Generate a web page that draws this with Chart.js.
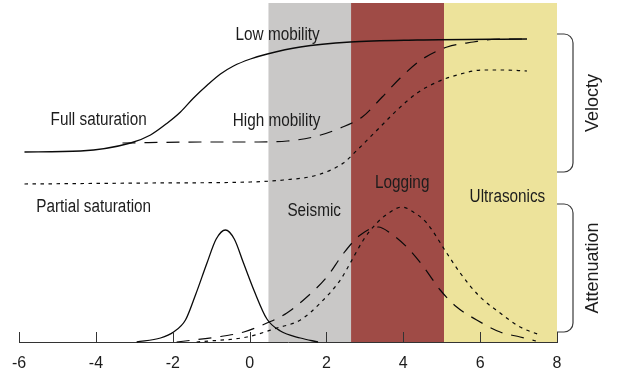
<!DOCTYPE html>
<html><head><meta charset="utf-8">
<script src="https://cdn.jsdelivr.net/npm/chart.js@4"></script>
<style>html,body{margin:0;padding:0;background:#fff}#wrap{width:617px;height:379px;position:relative}</style>
</head><body><div id="wrap"><canvas id="c"></canvas></div>
<script>
// ---- data ----
const tickValues = [-6, -4, -2, 0, 2, 4, 6, 8];

const bandNames = ['Seismic', 'Logging', 'Ultrasonics'];
const bandFrom = [0.49, 2.64, 5.06];
const bandTo = [2.64, 5.06, 8.0];
const bandColors = ['#c9c8c7', '#9f4b46', '#ede39b'];

// velocity, full saturation, low mobility (solid)
const velLowX = [-5.86, -4.40, -3.10, -2.58, -2.14, -1.80, -1.46, -1.10, -0.76, -0.42, 0.02, 0.46, 1.32, 2.62, 4.36, 7.22];
const velLowY = [190, 191, 199, 207, 219, 230, 244, 257, 268, 276, 283, 288, 295, 300, 302, 303];
// velocity, full saturation, high mobility (dashed)
const velHighX = [-3.31, -1.28, 0.23, 0.98, 1.66, 2.36, 2.93, 3.45, 3.92, 4.46, 5.14, 5.82, 6.52, 7.22];
const velHighY = [199, 200, 200, 201, 205, 214, 225, 245, 264, 282, 295, 300, 303, 303];
// velocity, partial saturation (dotted)
const velPartX = [-5.86, -2.58, 0.02, 0.88, 1.76, 2.44, 2.80, 3.32, 3.84, 4.36, 4.88, 5.40, 6.08, 6.60, 7.22];
const velPartY = [158, 159, 160, 162, 167, 179, 192, 212, 232, 249, 260, 267, 272, 272, 271];

// attenuation, low mobility (solid)
const attLowX = [-2.94, -2.32, -1.98, -1.67, -1.41, -1.11, -0.87, -0.63, -0.40, -0.16, 0.12, 0.45, 0.80, 1.32, 1.78];
const attLowY = [0, 4, 10, 22, 47, 79, 103, 112, 103, 79, 51, 23, 11, 4, 0];
// attenuation, high mobility (dashed)
const attHighX = [-1.90, -0.85, -0.15, 0.45, 0.97, 1.49, 2.01, 2.45, 2.88, 3.35, 3.66, 4.09, 4.53, 4.96, 5.39, 5.91, 6.52, 7.04, 7.45];
const attHighY = [0, 5, 10, 19, 29, 45, 65, 89, 107, 115, 109, 95, 75, 52, 35, 22, 10, 5, 1];
// attenuation, partial saturation (dotted)
const attPartX = [-1.38, -0.07, 0.71, 1.32, 1.84, 2.36, 2.62, 2.96, 3.31, 3.66, 3.96, 4.26, 4.61, 5.13, 5.48, 6.00, 6.52, 7.04, 7.56];
const attPartY = [0, 5, 14, 22, 39, 62, 79, 102, 119, 130, 135, 130, 119, 89, 69, 45, 29, 15, 7];

// group labels on the right
const groupNames = ['Velocty', 'Attenuation'];
const groupFrom = [170, 10];
const groupTo = [308, 138];

// ---- annotations (text in data coordinates) ----
const curveLabels = [
  {t: 'Low mobility', x: 0.73, y: 302},
  {t: 'High mobility', x: 0.70, y: 216},
  {t: 'Full saturation', x: -3.93, y: 217},
  {t: 'Partial saturation', x: -4.06, y: 130}
];
const bandLabelX = [1.68, 3.97, 6.71];
const bandLabelY = [126, 154, 140];

function pts(xs, ys) { return xs.map((v, i) => ({x: v, y: ys[i]})); }
const SOLID = [], DASH = [13, 9], DOT = [3.5, 4.5];
function ds(xs, ys, dash) {
  return {data: pts(xs, ys), borderColor: '#0a0a0a', borderWidth: dash === SOLID ? 1.3 : 1.2,
    borderDash: dash, pointRadius: 0, showLine: true, fill: false,
    cubicInterpolationMode: 'monotone', clip: false};
}

const FONT = '"Liberation Sans", Arial, sans-serif';
function stretchText(ctx, txt, px, py) {
  ctx.save(); ctx.translate(px, py); ctx.scale(1, 1.15); ctx.fillText(txt, 0, 0); ctx.restore();
}

const deco = {
  id: 'deco',
  beforeDatasetsDraw(chart) {
    const {ctx, chartArea: a, scales: {x}} = chart;
    ctx.save();
    for (let i = 0; i < bandFrom.length; i++) {
      const x0 = x.getPixelForValue(bandFrom[i]), x1 = x.getPixelForValue(bandTo[i]);
      ctx.fillStyle = bandColors[i];
      ctx.fillRect(x0, a.top, x1 - x0, a.bottom - a.top);
    }
    ctx.restore();
  },
  afterDatasetsDraw(chart) {
    const {ctx, chartArea: a, scales: {x, y}} = chart;
    ctx.save();
    // inward ticks
    ctx.strokeStyle = '#333'; ctx.lineWidth = 1;
    x.ticks.forEach(t => {
      const px = Math.round(x.getPixelForValue(t.value)) + 0.5;
      ctx.beginPath(); ctx.moveTo(px, a.bottom); ctx.lineTo(px, a.bottom - 10); ctx.stroke();
    });
    // labels
    ctx.fillStyle = '#1c1c1c';
    ctx.font = '15.3px ' + FONT;
    ctx.textAlign = 'center'; ctx.textBaseline = 'alphabetic';
    curveLabels.forEach(l => stretchText(ctx, l.t, x.getPixelForValue(l.x), y.getPixelForValue(l.y)));
    bandNames.forEach((n, i) => stretchText(ctx, n, x.getPixelForValue(bandLabelX[i]), y.getPixelForValue(bandLabelY[i])));
    // braces + rotated group labels
    ctx.strokeStyle = '#3a3a3a'; ctx.lineWidth = 1.2;
    const xl = a.right, w = 16, r = 9;
    groupNames.forEach((n, i) => {
      const yt = y.getPixelForValue(groupTo[i]), yb = y.getPixelForValue(groupFrom[i]);
      ctx.beginPath();
      ctx.moveTo(xl, yt); ctx.lineTo(xl + w - r, yt);
      ctx.arcTo(xl + w, yt, xl + w, yt + r, r);
      ctx.lineTo(xl + w, yb - r);
      ctx.arcTo(xl + w, yb, xl + w - r, yb, r);
      ctx.lineTo(xl, yb);
      ctx.stroke();
      ctx.save();
      ctx.translate(xl + 36, (yt + yb) / 2);
      ctx.rotate(-Math.PI / 2);
      ctx.font = '18px ' + FONT;
      ctx.textBaseline = 'middle';
      ctx.fillText(n, 0, 0);
      ctx.restore();
    });
    ctx.restore();
  }
};

new Chart(document.getElementById('c'), {
  type: 'scatter',
  data: {datasets: [
    ds(velLowX, velLowY, SOLID),
    ds(velHighX, velHighY, DASH),
    ds(velPartX, velPartY, DOT),
    ds(attLowX, attLowY, SOLID),
    ds(attHighX, attHighY, DASH),
    ds(attPartX, attPartY, DOT)
  ]},
  options: {
    responsive: true, maintainAspectRatio: false, animation: false,
    layout: {padding: {left: 18.5, right: 60, top: 3, bottom: 0}},
    plugins: {legend: {display: false}, tooltip: {enabled: false}},
    scales: {
      x: {type: 'linear', min: -6, max: 8,
        afterBuildTicks(s) { s.ticks = tickValues.map(v => ({value: v})); },
        afterFit(s) { s.height = 37; },
        grid: {display: false, drawTicks: false},
        border: {display: true, color: '#333', width: 1},
        ticks: {padding: 12, color: '#1c1c1c', font: {family: FONT, size: 16}}
      },
      y: {type: 'linear', min: 0, max: 339, display: false}
    }
  },
  plugins: [deco]
});
</script></body></html>
